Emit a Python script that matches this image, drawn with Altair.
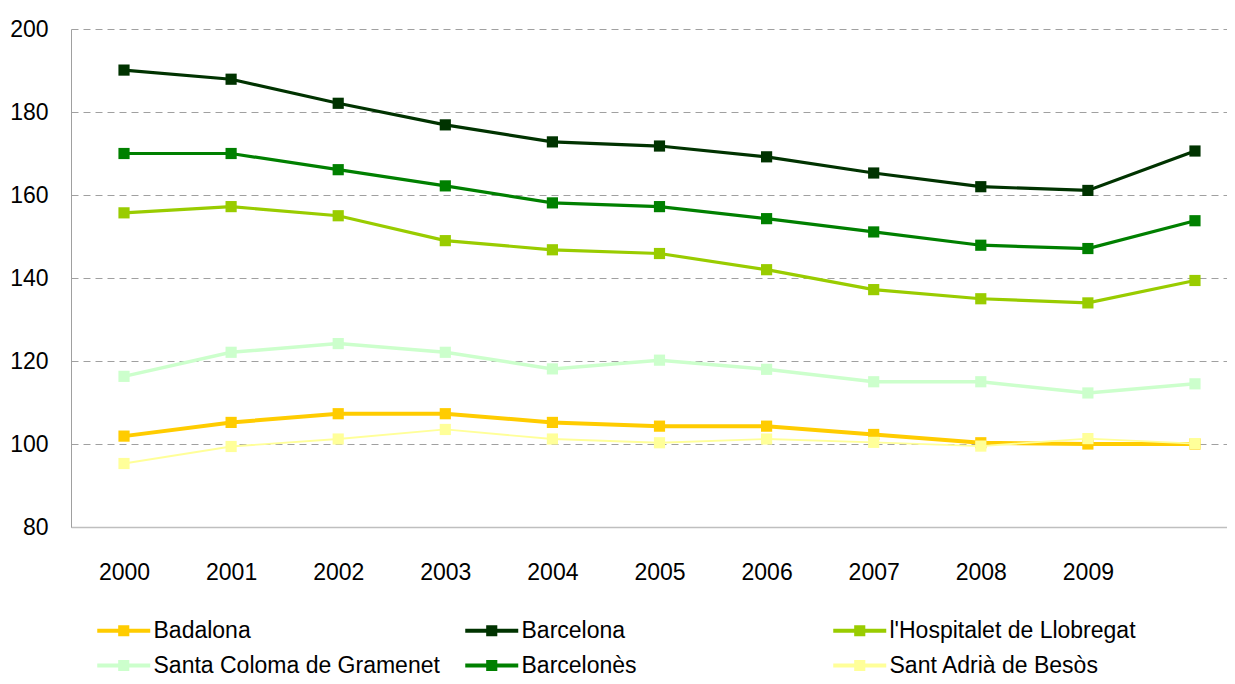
import altair as alt
import pandas as pd

years = [2000, 2001, 2002, 2003, 2004, 2005, 2006, 2007, 2008, 2009, 2010]
series_names = ["Badalona", "Barcelona", "l'Hospitalet de Llobregat",
                "Santa Coloma de Gramenet", "Barcelonès", "Sant Adrià de Besòs"]
colors = ["#FFCC00", "#003300", "#99CC00", "#CCFFCC", "#008000", "#FFFF99"]
widths = [4, 3.2, 3.2, 3.5, 3.2, 1.8]

badalona = [101.9, 105.2, 107.3, 107.3, 105.2, 104.3, 104.3, 102.3, 100.3, 100.0, 100.0]
barcelona = [190.1, 187.9, 182.1, 176.9, 172.8, 171.8, 169.2, 165.3, 162.0, 161.1, 170.6]
hospitalet = [155.7, 157.2, 155.0, 149.0, 146.8, 145.9, 142.0, 137.2, 135.0, 134.0, 139.4]
santa_coloma = [116.3, 122.1, 124.2, 122.1, 118.1, 120.2, 118.0, 115.0, 115.0, 112.3, 114.5]
barcelones = [170.0, 170.0, 166.1, 162.2, 158.1, 157.2, 154.3, 151.1, 147.9, 147.1, 153.8]
sant_adria = [95.3, 99.4, 101.2, 103.5, 101.2, 100.3, 101.2, 100.4, 99.5, 101.3, 100.1]

x_labels = [2000, 2001, 2002, 2003, 2004, 2005, 2006, 2007, 2008, 2009]
y_ticks = [80, 100, 120, 140, 160, 180, 200]

all_values = [badalona, barcelona, hospitalet, santa_coloma, barcelones, sant_adria]
rows = []
for i, (name, vals) in enumerate(zip(series_names, all_values)):
    for yr, v in zip(years, vals):
        rows.append({"year": yr, "value": v, "serie": name, "order": i})
df = pd.DataFrame(rows)

FONT = "Liberation Sans"

x_enc = alt.X("year:Q",
              scale=alt.Scale(domain=[1999.505, 2010.299], nice=False, zero=False),
              axis=alt.Axis(values=x_labels, format="d", title=None, grid=False,
                            ticks=False, labelPadding=34, domainColor="#BFBFBF",
                            domainWidth=1.5, labelFontSize=23, labelFont=FONT,
                            labelColor="#000000", labelFlush=False))
y_enc = alt.Y("value:Q",
              scale=alt.Scale(domain=[80, 200], nice=False, zero=False),
              axis=alt.Axis(values=y_ticks, title=None, grid=True, gridDash=[7, 5],
                            gridColor="#A0A0A0", gridWidth=1, ticks=False,
                            labelPadding=23, domainColor="#A0A0A0", domainWidth=1,
                            labelFontSize=23, labelFont=FONT, labelColor="#000000"))

color_scale = alt.Scale(domain=series_names, range=colors)

# line with a square marker; path units are scaled by sqrt(size)/2
legend_path = ("M-1,-0.15L3,-0.15L3,0.15L-1,0.15Z"
               "M0.58,-0.42L1.42,-0.42L1.42,0.42L0.58,0.42Z")

legend_def = alt.Legend(title=None, orient="none", legendX=26, legendY=588,
                        direction="horizontal",
                        columns=3, gridAlign="all", columnPadding=25,
                        rowPadding=9, symbolType=legend_path, symbolSize=702,
                        symbolStrokeWidth=0, labelFontSize=23, labelFont=FONT,
                        labelColor="#000000", labelLimit=500, labelOffset=29.5,
                        padding=0)

layers = []
for name, col, w in zip(series_names, colors, widths):
    sub = df[df["serie"] == name]
    line = alt.Chart(sub).mark_line(color=col, strokeWidth=w).encode(
        x=x_enc, y=y_enc, order=alt.Order("year:Q"))
    pts = alt.Chart(sub).mark_point(shape="square", filled=True, size=125, opacity=1).encode(
        x=x_enc, y=y_enc,
        color=alt.Color("serie:N", scale=color_scale, legend=legend_def))
    layers.append(line)
    layers.append(pts)

chart = alt.layer(*layers).properties(
    width=1156, height=498,
    autosize=alt.AutoSizeParams(type="none"),
    padding={"left": 63, "top": 21, "right": 0, "bottom": 149},
    background="white",
).configure_view(stroke=None)

chart.save("out.html", embed_options={"renderer": "svg", "actions": False})
